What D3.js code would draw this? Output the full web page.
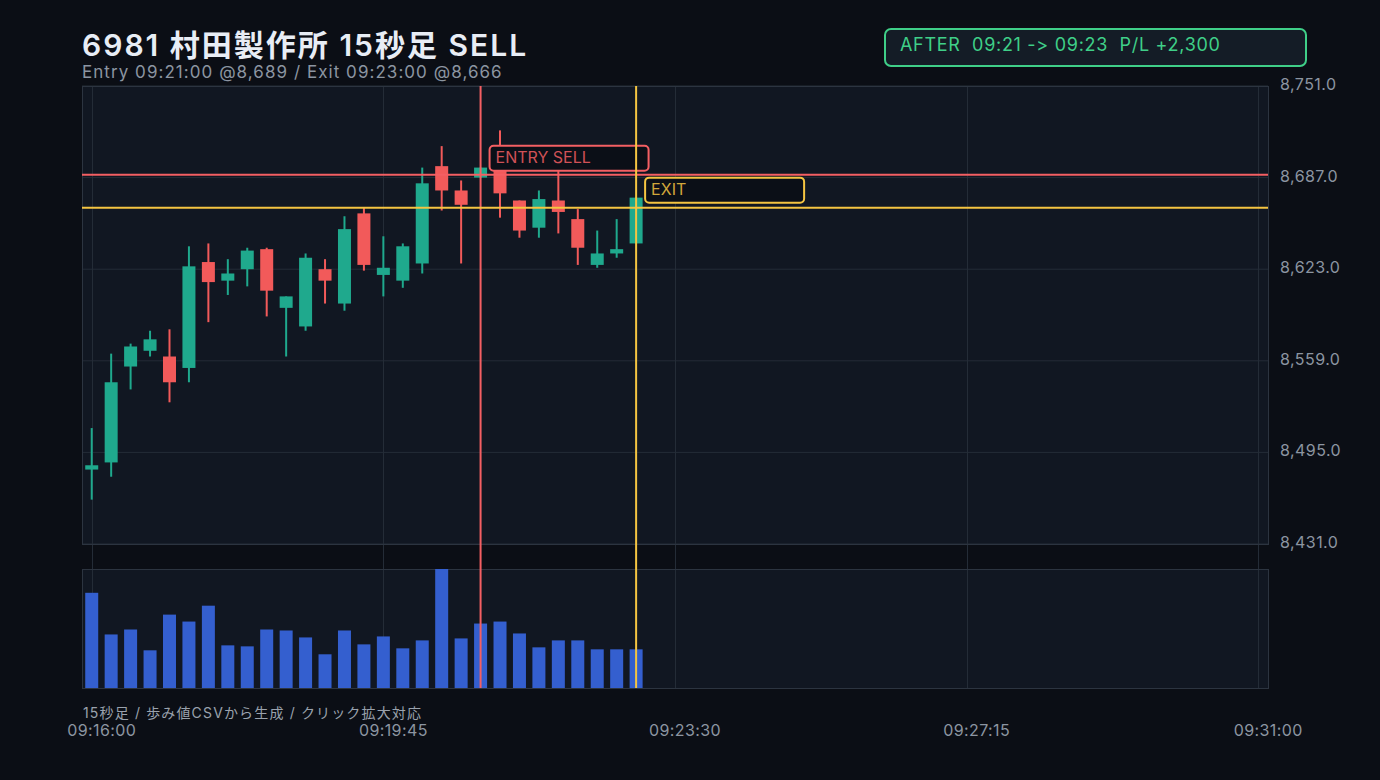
<!DOCTYPE html>
<html>
<head>
<meta charset="utf-8">
<script src="https://cdn.jsdelivr.net/npm/d3@7"></script>
<style>
  html, body { margin: 0; padding: 0; background: #0b0e15; }
  svg { display: block; font-family: Inter, "Noto Sans CJK JP", sans-serif;
        font-feature-settings: "calt" 0, "liga" 0; font-variant-ligatures: none; }
</style>
</head>
<body>
<script>
// 15s candles, 09:16:00 - 09:23:00
var times = ['09:16:00','09:16:15','09:16:30','09:16:45','09:17:00','09:17:15','09:17:30','09:17:45',
  '09:18:00','09:18:15','09:18:30','09:18:45','09:19:00','09:19:15','09:19:30','09:19:45',
  '09:20:00','09:20:15','09:20:30','09:20:45','09:21:00','09:21:15','09:21:30','09:21:45',
  '09:22:00','09:22:15','09:22:30','09:22:45','09:23:00'];
var opens  = [8483,8488,8555,8566,8562,8554,8628,8615,8623,8637,8596,8583,8623,8599,8662,8619,8615,8627,8695,8678,8687,8692,8671,8652,8671,8658,8626,8634,8641];
var highs  = [8512,8564,8571,8580,8581,8639,8641,8630,8638,8638,8604,8634,8630,8660,8666,8646,8641,8694,8709,8685,8694,8720,8671,8678,8692,8665,8650,8658,8673];
var lows   = [8462,8478,8539,8562,8530,8544,8586,8605,8611,8590,8562,8580,8599,8594,8622,8604,8610,8620,8664,8627,8687,8659,8645,8645,8648,8626,8624,8631,8641];
var closes = [8486,8544,8569,8574,8544,8625,8614,8620,8636,8608,8604,8631,8615,8651,8626,8624,8639,8683,8678,8668,8694,8676,8650,8672,8663,8638,8634,8637,8673];
var volumes = [9600,5400,5900,3800,7400,6700,8300,4300,4200,5900,5800,5100,3400,5800,4400,5200,4000,4800,12000,5000,6500,6700,5500,4100,4800,4800,3900,3900,3900];

var yTicks = [8431,8495,8559,8623,8687,8751];
var xTicks = ['09:16:00','09:19:45','09:23:30','09:27:15','09:31:00'];

var entry = { time: '09:21:00', price: 8689 };
var exit  = { time: '09:23:00', price: 8666 };

var parseT = function(s) {
  var p = s.split(':');
  return new Date(2024, 0, 1, +p[0], +p[1], +p[2]);
};

var width = 1380, height = 780;
var plot = { left: 82, right: 1268, top: 86, bottom: 544 };
var volPanel = { top: 569, bottom: 688 };

var colors = {
  up: '#1fa98d', down: '#f25a5a', vol: '#345fcf',
  grid: '#242c37', border: '#2c3440', panel: '#111722',
  entry: '#f45f63', exit: '#f5c542', text: '#8c95a1'
};

var svg = d3.select('body').append('svg')
  .attr('width', width)
  .attr('height', height);

svg.append('rect').attr('width', width).attr('height', height).attr('fill', '#0b0e15');

var candles = times.map(function(t, i) {
  return { t: parseT(t), o: opens[i], h: highs[i], l: lows[i], c: closes[i], v: volumes[i] };
});

// half slot padding each side
var x = d3.scaleTime()
  .domain([new Date(parseT('09:16:00') - 7500), new Date(+parseT('09:31:00') + 7500)])
  .range([plot.left, plot.right]);

var y = d3.scaleLinear().domain([8431, 8751]).range([plot.bottom, plot.top]);

var yVol = d3.scaleLinear().domain([0, d3.max(volumes)]).range([volPanel.bottom, volPanel.top]);

// panels
svg.append('rect')
  .attr('x', plot.left).attr('y', plot.top)
  .attr('width', plot.right - plot.left).attr('height', plot.bottom - plot.top)
  .attr('fill', colors.panel);
svg.append('rect')
  .attr('x', plot.left).attr('y', volPanel.top)
  .attr('width', plot.right - plot.left).attr('height', volPanel.bottom - volPanel.top)
  .attr('fill', colors.panel);

// grid
svg.append('g').selectAll('line').data(yTicks).enter().append('line')
  .attr('x1', plot.left).attr('x2', plot.right)
  .attr('y1', function(d) { return y(d); }).attr('y2', function(d) { return y(d); })
  .attr('stroke', colors.grid).attr('stroke-width', 1);

svg.append('g').selectAll('line').data(xTicks).enter().append('line')
  .attr('x1', function(d) { return Math.round(x(parseT(d))) + 0.5; })
  .attr('x2', function(d) { return Math.round(x(parseT(d))) + 0.5; })
  .attr('y1', plot.top).attr('y2', volPanel.bottom)
  .attr('stroke', colors.grid).attr('stroke-width', 1);

// borders
svg.append('rect')
  .attr('x', plot.left + 0.5).attr('y', plot.top + 0.5)
  .attr('width', plot.right - plot.left).attr('height', plot.bottom - plot.top)
  .attr('fill', 'none').attr('stroke', colors.border);
svg.append('rect')
  .attr('x', plot.left + 0.5).attr('y', volPanel.top + 0.5)
  .attr('width', plot.right - plot.left).attr('height', volPanel.bottom - volPanel.top)
  .attr('fill', 'none').attr('stroke', colors.border);

var bodyW = 13;

// volume bars
svg.append('g').selectAll('rect').data(candles).enter().append('rect')
  .attr('x', function(d) { return x(d.t) - bodyW / 2; })
  .attr('width', bodyW)
  .attr('y', function(d) { return yVol(d.v); })
  .attr('height', function(d) { return volPanel.bottom - yVol(d.v); })
  .attr('fill', colors.vol);

// candles
var cg = svg.append('g').selectAll('g').data(candles).enter().append('g');
cg.append('line')
  .attr('x1', function(d) { return x(d.t); })
  .attr('x2', function(d) { return x(d.t); })
  .attr('y1', function(d) { return y(d.h); })
  .attr('y2', function(d) { return y(d.l); })
  .attr('stroke', function(d) { return d.c >= d.o ? colors.up : colors.down; })
  .attr('stroke-width', 2);
cg.append('rect')
  .attr('x', function(d) { return x(d.t) - bodyW / 2; })
  .attr('width', bodyW)
  .attr('y', function(d) { return y(Math.max(d.o, d.c)); })
  .attr('height', function(d) { return Math.max(1, Math.abs(y(d.o) - y(d.c))); })
  .attr('fill', function(d) { return d.c >= d.o ? colors.up : colors.down; });

// entry / exit lines
var drawMark = function(m, color, label, dy) {
  var mx = x(parseT(m.time)), my = y(m.price);
  svg.append('line')
    .attr('x1', plot.left).attr('x2', plot.right)
    .attr('y1', my).attr('y2', my)
    .attr('stroke', color).attr('stroke-width', 2);
  svg.append('line')
    .attr('x1', mx).attr('x2', mx)
    .attr('y1', plot.top).attr('y2', volPanel.bottom)
    .attr('stroke', color).attr('stroke-width', 2);
  svg.append('rect')
    .attr('x', mx + 9).attr('y', my + dy)
    .attr('width', 159).attr('height', 25)
    .attr('rx', 4)
    .attr('fill', '#0b0f17')
    .attr('stroke', color).attr('stroke-width', 2);
  svg.append('text')
    .attr('x', mx + 15).attr('y', my + dy + 17)
    .attr('fill', color).attr('fill-opacity', 0.85)
    .attr('font-size', 16)
    .text(label);
};
drawMark(entry, colors.entry, 'ENTRY SELL', -29);
drawMark(exit, colors.exit, 'EXIT', -30);

// y axis labels
svg.append('g').selectAll('text').data(yTicks).enter().append('text')
  .attr('x', 1280)
  .attr('y', function(d) { return y(d) + 4; })
  .attr('fill', colors.text)
  .attr('font-size', 16)
  .attr('letter-spacing', 0.45)
  .text(function(d) { return d3.format(',.1f')(d); });

// x axis labels
svg.append('g').selectAll('text').data(xTicks).enter().append('text')
  .attr('x', function(d) { return x(parseT(d)) + 10; })
  .attr('y', 736)
  .attr('text-anchor', 'middle')
  .attr('fill', colors.text)
  .attr('font-size', 16)
  .attr('letter-spacing', 0.4)
  .text(function(d) { return d; });

// titles
svg.append('text')
  .attr('x', 82).attr('y', 56)
  .attr('fill', '#e8edf5')
  .attr('font-size', 30).attr('font-weight', 600)
  .attr('letter-spacing', 2)
  .text('6981 村田製作所 15秒足 SELL');
svg.append('text')
  .attr('x', 82).attr('y', 78)
  .attr('fill', colors.text)
  .attr('font-size', 17)
  .attr('letter-spacing', 1.05)
  .text('Entry 09:21:00 @8,689 / Exit 09:23:00 @8,666');
svg.append('text')
  .attr('x', 83).attr('y', 718)
  .attr('fill', '#9aa2ad')
  .attr('font-size', 14)
  .attr('letter-spacing', 1.15)
  .text('15秒足 / 歩み値CSVから生成 / クリック拡大対応');

// result box
svg.append('rect')
  .attr('x', 885).attr('y', 29)
  .attr('width', 421).attr('height', 37)
  .attr('rx', 6)
  .attr('fill', '#141c26')
  .attr('stroke', '#3fcf88').attr('stroke-width', 2);
svg.append('text')
  .attr('x', 900).attr('y', 51)
  .attr('fill', '#3fcf88')
  .attr('font-size', 18)
  .attr('letter-spacing', 0.7)
  .attr('xml:space', 'preserve')
  .style('white-space', 'pre')
  .text('AFTER  09:21 -> 09:23  P/L +2,300');
</script>
</body>
</html>
